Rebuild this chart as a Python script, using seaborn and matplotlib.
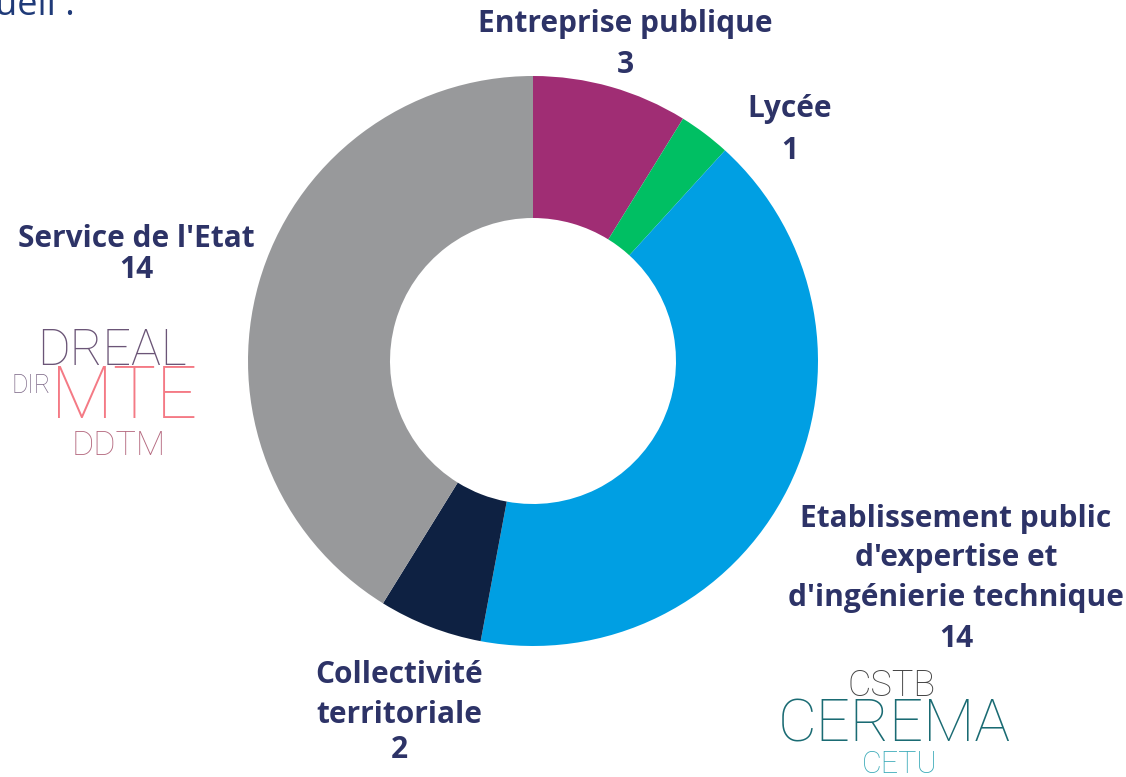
import matplotlib
matplotlib.use("Agg")
import matplotlib.pyplot as plt
import seaborn as sns

# data
categories = ["Entreprise publique", "Lycée", "Etablissement public d'expertise et d'ingénierie technique",
              "Collectivité territoriale", "Service de l'Etat"]
counts = [3, 1, 14, 2, 14]
colors = ["#A02D74", "#00BF63", "#009FE3", "#0E2142", "#98999B"]

# label lines for each slice (name lines, then the count)
label_lines = [
    ["Entreprise publique"],
    ["Lycée"],
    ["Etablissement public", "d'expertise et", "d'ingénierie technique"],
    ["Collectivité", "territoriale"],
    ["Service de l'Etat"],
]

sns.set_theme(style="white")
plt.rcParams['font.family'] = ['Open Sans', 'DejaVu Sans']

W, H = 1126, 777
fig = plt.figure(figsize=(W / 100, H / 100), dpi=100)
ax = fig.add_axes([0, 0, 1, 1])

palette = sns.color_palette(colors)
ax.pie(counts, colors=palette, startangle=90, counterclock=False,
       center=(533, H - 361), radius=285,
       wedgeprops=dict(width=142, linewidth=0))
ax.set_xlim(0, W)
ax.set_ylim(0, H)
ax.set_aspect("equal")
ax.axis("off")

# label placement: x centre and baselines (pixels from top) for each line
label_pos = [
    (625, [32, 73]),
    (790, [117, 159]),
    (956, [527, 566, 606, 647]),
    (399, [683, 723, 758]),
    (136, [247, 278]),
]
text_color = "#2D3367"
for lines, n, (x, ys) in zip(label_lines, counts, label_pos):
    for line, y in zip(lines + [str(n)], ys):
        ax.text(x, H - y, line, ha="center", va="baseline", fontsize=21.5,
                fontweight="bold", color=text_color)

# cut-off slide text at top left
ax.text(-5, H - 15, "ueil :", ha="left", va="baseline", fontsize=26, color="#1F3A78")

# word logos
logo = dict(family=["Roboto", "DejaVu Sans"], fontweight="light", va="baseline")
ax.text(37, H - 365, "DREAL", ha="left", fontsize=36, color="#6B5577", **logo)
ax.text(51, H - 393, "DIR", ha="right", fontsize=18, color="#7A6585", **logo)
ax.text(51, H - 418, "MTE", ha="left", fontsize=52, color="#F47A85", **logo)
ax.text(119, H - 455, "DDTM", ha="center", fontsize=24.5, color="#B56A80", **logo)

ax.text(892, H - 696, "CSTB", ha="center", fontsize=26, color="#454545", **logo)
ax.text(894, H - 742, "CEREMA", ha="center", fontsize=43, color="#1A6B73", **logo)
ax.text(900, H - 773, "CETU", ha="center", fontsize=22, color="#3AAAB8", **logo)

fig.savefig("out.png", dpi=100)
